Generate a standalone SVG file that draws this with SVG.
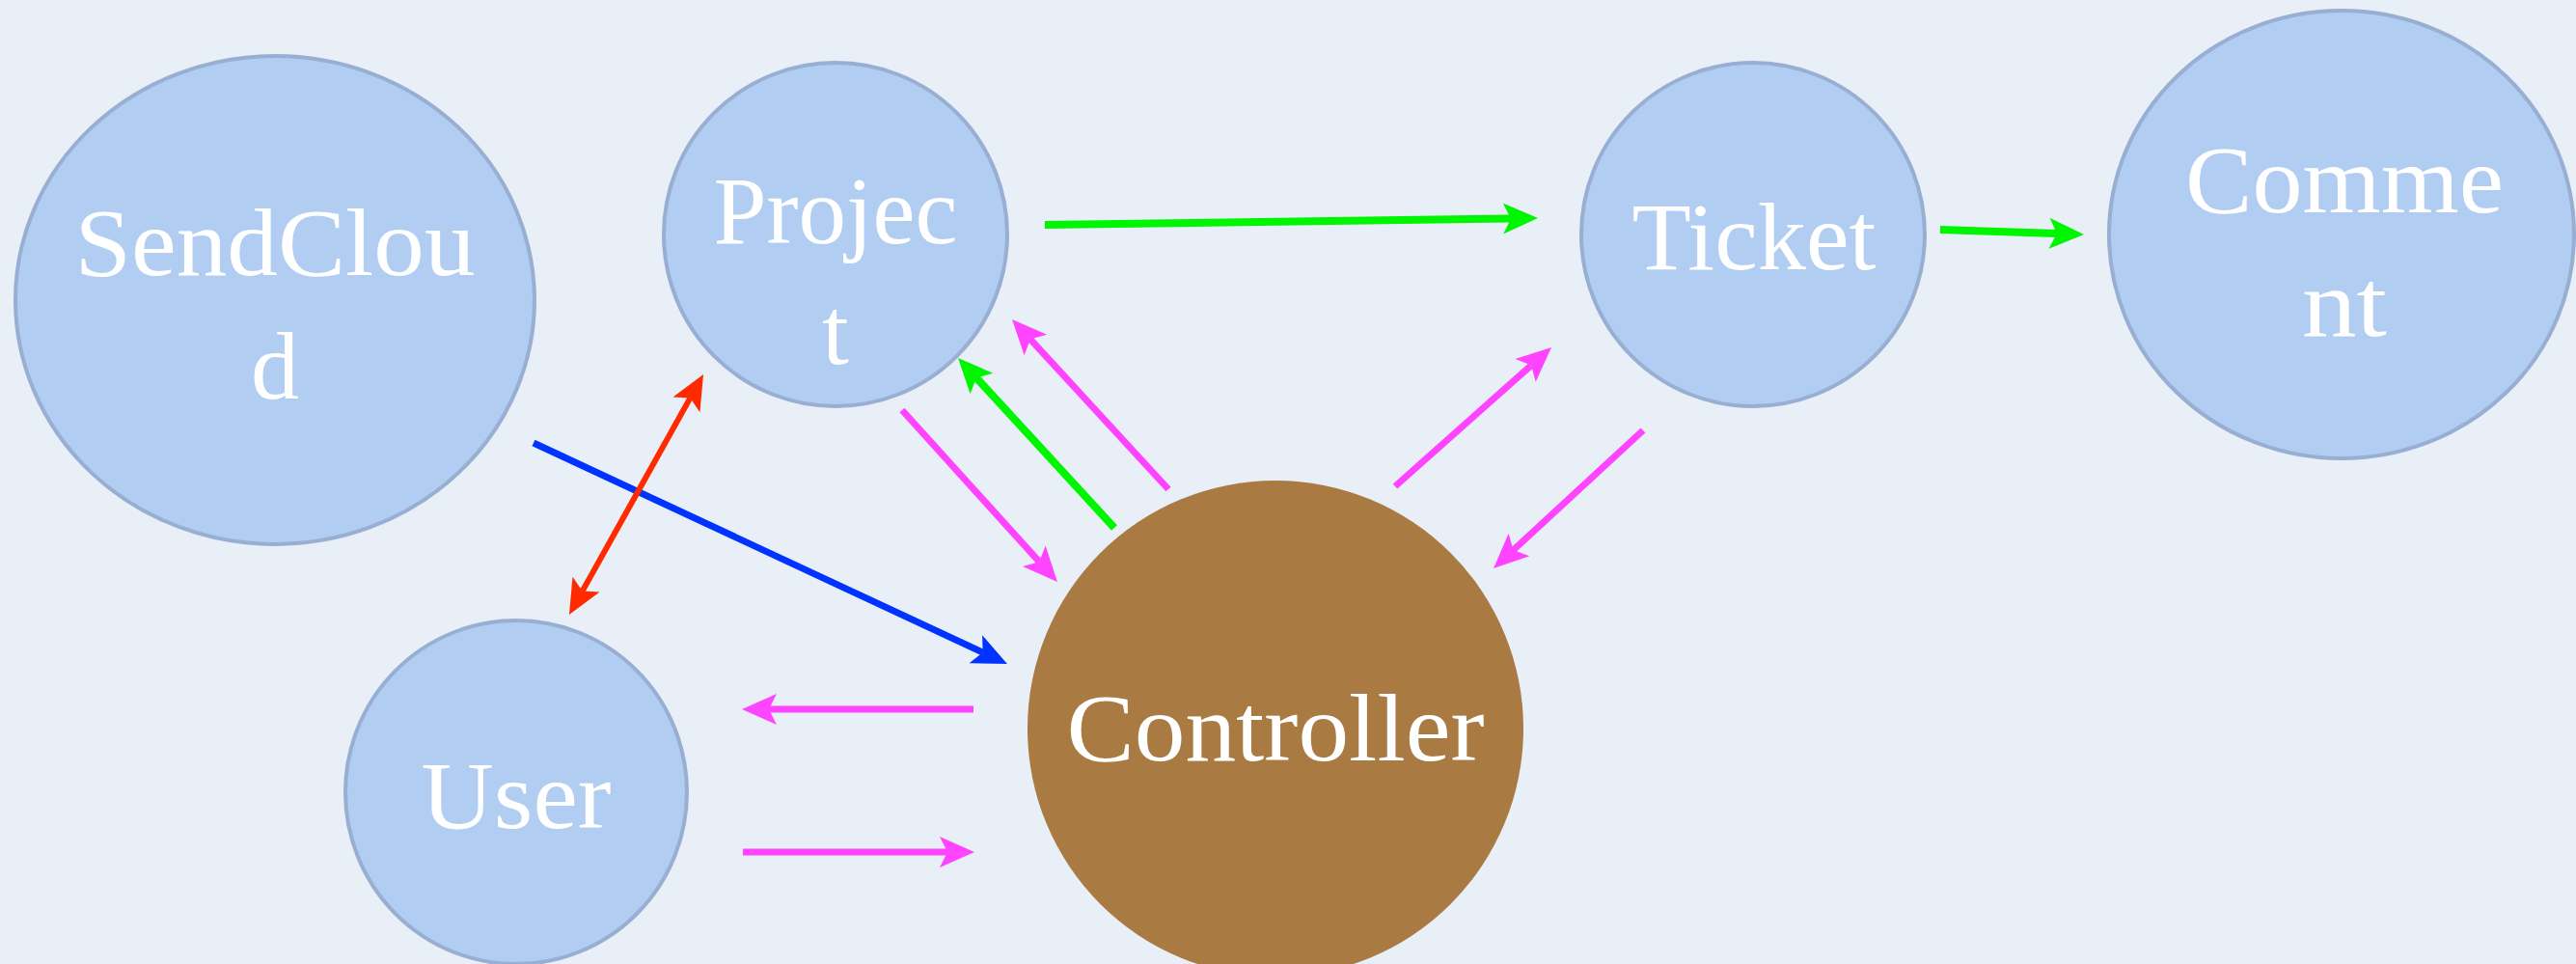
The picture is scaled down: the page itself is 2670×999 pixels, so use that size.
<svg xmlns="http://www.w3.org/2000/svg" width="2670" height="999" viewBox="0 0 2670 999">
<style>
.node{fill:#B1CDF2;stroke:#98AED3;stroke-width:4}
.ctrl{fill:#A97A42;stroke:none}
.lbl{font-family:"Liberation Serif","DejaVu Serif",serif;font-size:100px;fill:#FFFFFF;text-anchor:middle}
.c{fill:none;stroke-linecap:butt}
.mg{stroke:#FF44FF;stroke-width:7}
.gr{stroke:#00F500;stroke-width:8}
.bl{stroke:#0033FF;stroke-width:7}
.rd{stroke:#FF2A00;stroke-width:6}
</style>
<defs>
<marker id="hm" markerUnits="userSpaceOnUse" markerWidth="40" markerHeight="40" viewBox="0 -20 40 40" refX="8" refY="0" orient="auto" overflow="visible"><path d="M0,-16 L36,0 L0,16 L8,0 Z" fill="#FF44FF"/></marker>
<marker id="hg" markerUnits="userSpaceOnUse" markerWidth="40" markerHeight="40" viewBox="0 -20 40 40" refX="8" refY="0" orient="auto" overflow="visible"><path d="M0,-16 L36,0 L0,16 L8,0 Z" fill="#00F500"/></marker>
<marker id="hb" markerUnits="userSpaceOnUse" markerWidth="40" markerHeight="40" viewBox="0 -20 40 40" refX="8" refY="0" orient="auto" overflow="visible"><path d="M0,-16 L36,0 L0,16 L8,0 Z" fill="#0033FF"/></marker>
<marker id="hr" markerUnits="userSpaceOnUse" markerWidth="40" markerHeight="40" viewBox="0 -20 40 40" refX="8" refY="0" orient="auto-start-reverse" overflow="visible"><path d="M0,-16 L36,0 L0,16 L8,0 Z" fill="#FF2A00"/></marker>
</defs>
<rect x="0" y="0" width="2670" height="999" fill="#E9EFF7"/>

<g id="SendCloud">
<ellipse class="node" cx="285" cy="311" rx="269" ry="253"/>
<text class="lbl" x="285" y="285" textLength="415" lengthAdjust="spacingAndGlyphs">SendClou</text>
<text class="lbl" x="285" y="413">d</text>
</g>
<g id="Project">
<ellipse class="node" cx="866" cy="243" rx="178" ry="178"/>
<text class="lbl" x="866" y="252" textLength="253" lengthAdjust="spacingAndGlyphs">Projec</text>
<text class="lbl" x="866" y="377">t</text>
</g>
<g id="Ticket">
<ellipse class="node" cx="1817" cy="243" rx="178" ry="178"/>
<text class="lbl" x="1818" y="279" textLength="253" lengthAdjust="spacingAndGlyphs">Ticket</text>
</g>
<g id="Comment">
<ellipse class="node" cx="2427" cy="243" rx="241" ry="232"/>
<text class="lbl" x="2430" y="220" textLength="330" lengthAdjust="spacingAndGlyphs">Comme</text>
<text class="lbl" x="2430" y="348" textLength="88" lengthAdjust="spacingAndGlyphs">nt</text>
</g>
<g id="User">
<ellipse class="node" cx="535" cy="821" rx="177" ry="178"/>
<text class="lbl" x="535" y="858" textLength="197" lengthAdjust="spacingAndGlyphs">User</text>
</g>
<g id="Controller">
<ellipse class="ctrl" cx="1322" cy="755" rx="257" ry="257"/>
<text class="lbl" x="1322" y="788" textLength="433" lengthAdjust="spacingAndGlyphs">Controller</text>
</g>

<g id="connectors">
<line class="c gr" x1="1083" y1="233" x2="1566" y2="226.4" marker-end="url(#hg)"/>
<line class="c gr" x1="2011" y1="238" x2="2132" y2="242.1" marker-end="url(#hg)"/>
<line class="c bl" x1="553" y1="459" x2="1018.6" y2="676.2" marker-end="url(#hb)"/>
<line class="c rd" x1="603.6" y1="612.6" x2="715.4" y2="412.4" marker-start="url(#hr)" marker-end="url(#hr)"/>
<line class="c mg" x1="935" y1="425" x2="1077.2" y2="582.2" marker-end="url(#hm)"/>
<line class="c gr" x1="1155" y1="547" x2="1012" y2="391.6" marker-end="url(#hg)"/>
<line class="c mg" x1="1211" y1="507" x2="1068" y2="351.6" marker-end="url(#hm)"/>
<line class="c mg" x1="1446" y1="504" x2="1587.1" y2="378.6" marker-end="url(#hm)"/>
<line class="c mg" x1="1703" y1="446" x2="1568.6" y2="570" marker-end="url(#hm)"/>
<line class="c mg" x1="1009" y1="735" x2="797" y2="735" marker-end="url(#hm)"/>
<line class="c mg" x1="770" y1="883" x2="982" y2="883" marker-end="url(#hm)"/>
</g>
</svg>
